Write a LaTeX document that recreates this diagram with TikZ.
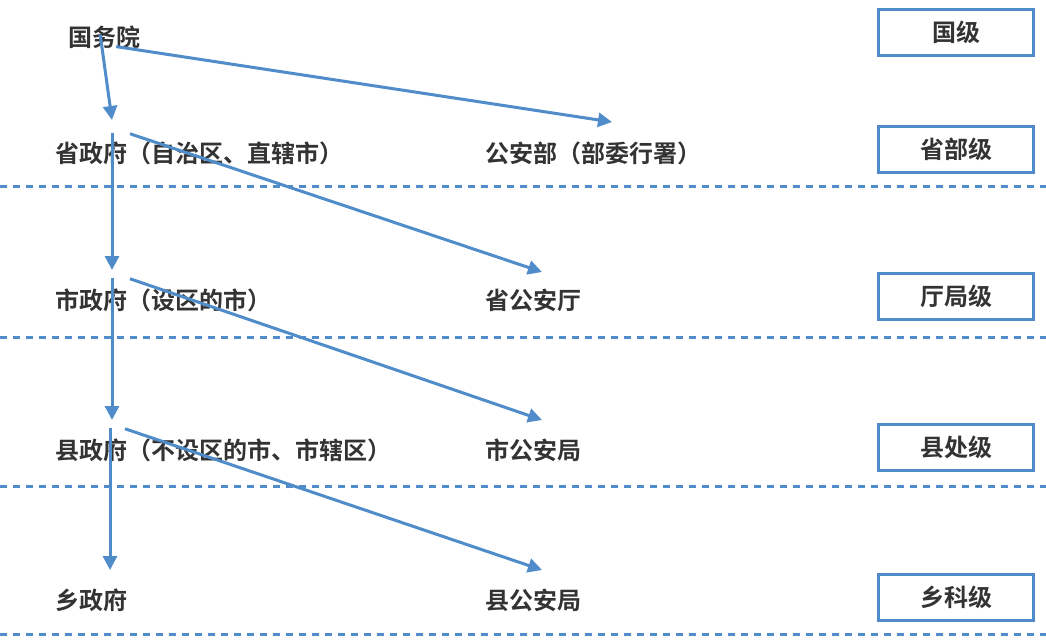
\documentclass[tikz,border=0pt]{standalone}
\usepackage{fontspec}
\setmainfont{Noto Sans CJK SC}[BoldFont={Noto Sans CJK SC Bold}]
\usetikzlibrary{arrows.meta,positioning}
\definecolor{lineblue}{HTML}{4F8CC9}
\definecolor{txt}{HTML}{333333}
\begin{document}
\begin{tikzpicture}[x=1pt,y=-1pt]

\tikzset{unit/.style={anchor=west,inner sep=0pt,text=txt,font=\fontsize{24}{28}\selectfont\bfseries},
level/.style={draw=lineblue,line width=3pt,minimum width=155pt,minimum height=46pt,inner sep=0pt,text=txt,font=\fontsize{24}{28}\selectfont\bfseries},
down/.style={-{Triangle[length=14pt,width=14pt]},line width=3pt,draw=lineblue},
sep/.style={lineblue,line width=3pt,dash pattern=on 7pt off 6pt}}

\useasboundingbox (0,0) rectangle (1046,640);

% Level boxes
\node (l1) [level] at (956,32) {国级};
\node (l2) [level] at (956,149) {省部级};
\node (l3) [level] at (956,296) {厅局级};
\node (l4) [level] at (956,447) {县处级};
\node (l5) [level] at (956,597) {乡科级};

% Government and police units
\node (g1) [unit] at (68,37) {国务院};
\node (g2) [unit] at (55,153) {省政府（自治区、直辖市）};
\node (p2) [unit] at (485,153) {公安部（部委行署）};
\node (g3) [unit] at (55,300) {市政府（设区的市）};
\node (p3) [unit] at (485,300) {省公安厅};
\node (g4) [unit] at (55,450) {县政府（不设区的市、市辖区）};
\node (p4) [unit] at (485,450) {市公安局};
\node (g5) [unit] at (55,600) {乡政府};
\node (p5) [unit] at (485,600) {县公安局};

% Arrow ends
\coordinate (a1) at (112,120);
\coordinate (b1) at (612,122);
\coordinate (a2) at (112,270);
\coordinate (b2) at (542,272);
\coordinate (a3) at (112,420);
\coordinate (b3) at (542,420);
\coordinate (a4) at (110,570);
\coordinate (b4) at (542,570);

% Arrows
\draw [down] ([xshift=-4pt,yshift=14pt]g1.south) -- (a1);
\draw [down] ([xshift=12pt,yshift=2pt]g1.south) -- (b1);
\draw [down] ([xshift=57pt,yshift=32pt]g2.south west) -- (a2);
\draw [down] ([xshift=75pt,yshift=31pt]g2.south west) -- (b2);
\draw [down] ([xshift=57pt,yshift=34pt]g3.south west) -- (a3);
\draw [down] ([xshift=75pt,yshift=33pt]g3.south west) -- (b3);
\draw [down] ([xshift=55pt,yshift=34pt]g4.south west) -- (a4);
\draw [down] ([xshift=70pt,yshift=33pt]g4.south west) -- (b4);

% Separators
\foreach \y in {186,337,486,634}
  \draw [sep] (0,\y) -- (1046,\y);

\end{tikzpicture}
\end{document}
